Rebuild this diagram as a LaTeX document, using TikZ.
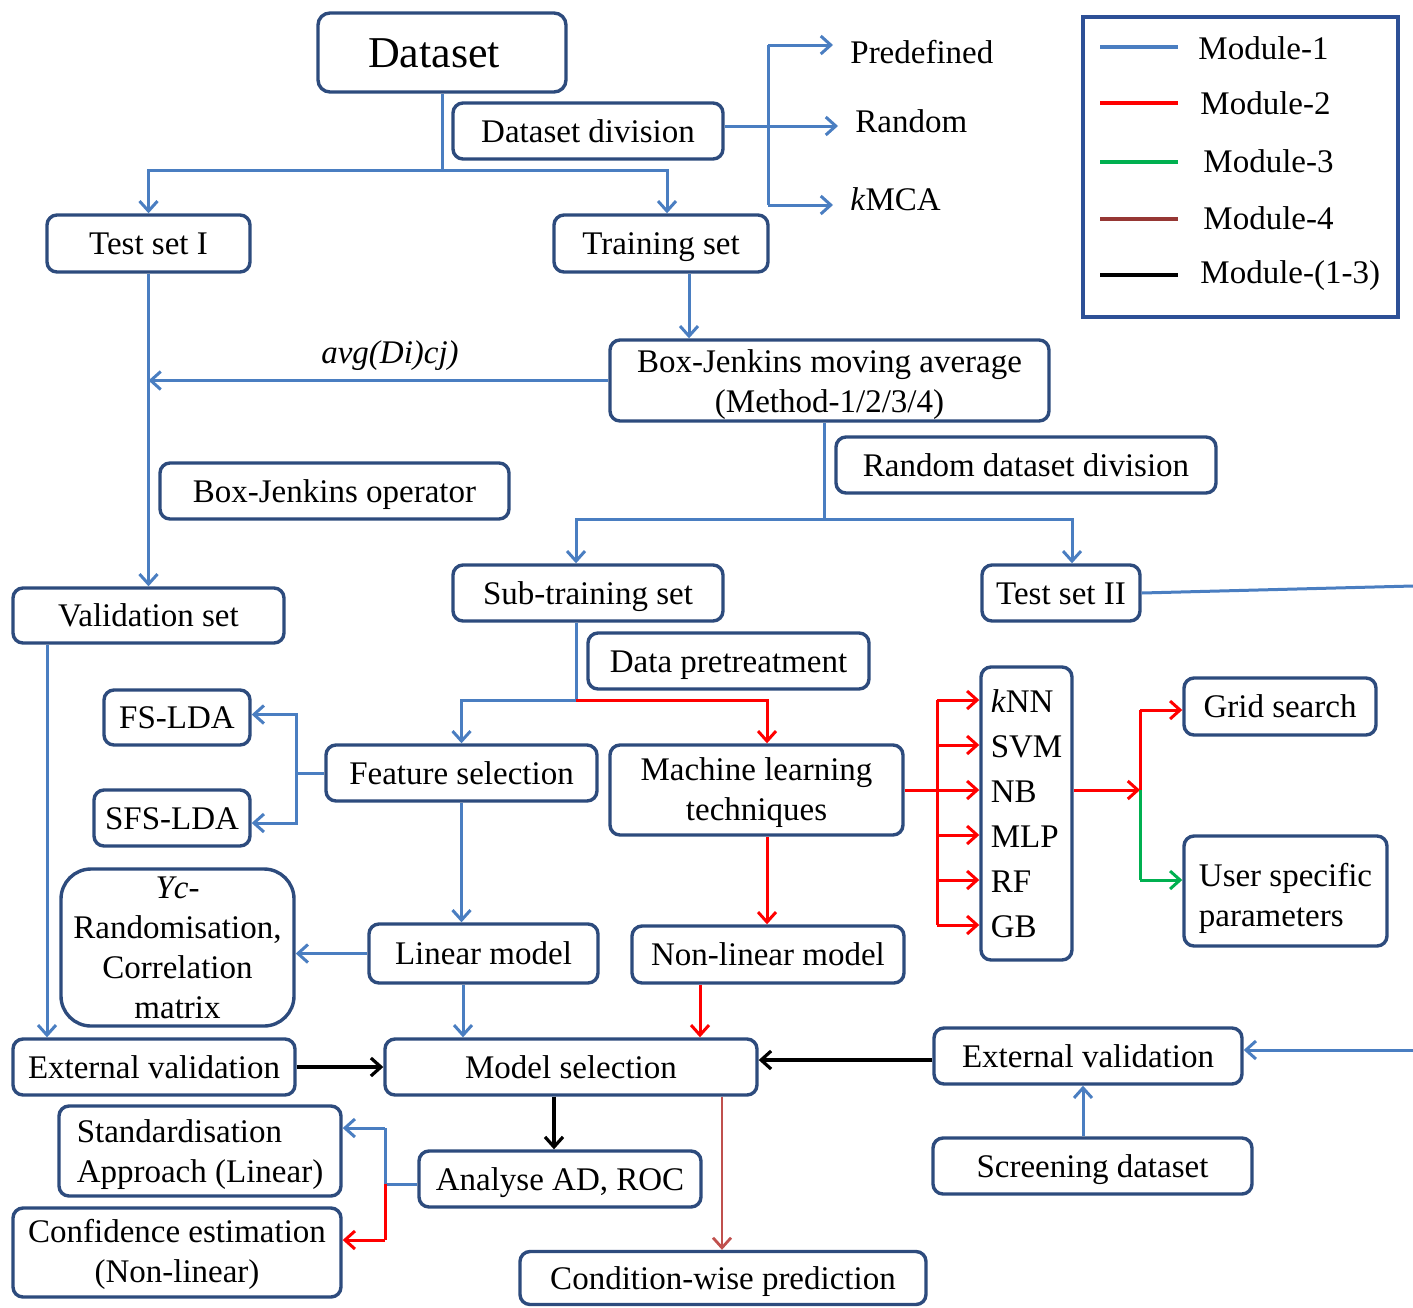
\documentclass[tikz,border=0pt]{standalone}
\usepackage{fontspec}
\setmainfont{Liberation Serif}
\usetikzlibrary{arrows.meta,calc}
\definecolor{boxc}{RGB}{45,75,125}
\definecolor{legc}{RGB}{45,80,150}
\definecolor{arrb}{RGB}{74,126,193}
\definecolor{arrr}{RGB}{255,0,0}
\definecolor{arrg}{RGB}{0,176,80}
\definecolor{arrbr}{RGB}{192,80,77}
\definecolor{legbr}{RGB}{150,55,52}
\newcommand\myfs{\fontsize{16.5pt}{20pt}\selectfont}
\tikzset{
  box/.style={draw=boxc, line width=1.7pt, rounded corners=5pt, inner sep=0pt, align=center, font=\myfs, fill=white},
  one/.style={text height=11pt, text depth=0pt},
  txt/.style={inner ysep=0pt, inner xsep=8.5pt, font=\myfs, anchor=west},
  tipv/.style={-{Straight Barb[length=5pt,width=9pt]}},
  bl/.style={draw=arrb, line width=1.5pt},
  bla/.style={bl, tipv},
  rd/.style={draw=arrr, line width=1.5pt},
  rda/.style={rd, tipv},
  gn/.style={draw=arrg, line width=1.5pt},
  gna/.style={gn, tipv},
  bka/.style={draw=black, line width=1.6pt, tipv},
  bra/.style={draw=arrbr, line width=1.4pt, tipv},
  legline/.style={line width=1.6pt},
  legtxt/.style={font=\myfs, anchor=west, inner sep=0pt}
}
\begin{document}
\begin{tikzpicture}[x=0.5pt,y=-0.5pt]
\useasboundingbox (0,0) rectangle (1413,1307);

% ---------- boxes ----------
\node[box, font=\fontsize{22pt}{26pt}\selectfont, text height=15pt, text depth=0pt, minimum width=124pt, minimum height=39.5pt, rounded corners=6pt] (ds) at (442,52.5) {Dataset\hspace*{8pt}};
\node[box, one, minimum width=135pt, minimum height=28pt] (dd) at (588,131) {Dataset division};
\node[box, one, minimum width=101.5pt, minimum height=28.5pt] (t1) at (148.5,243.5) {Test set I};
\node[box, one, minimum width=107pt, minimum height=28.5pt] (tr) at (661,243.5) {Training set};
\node[box, minimum width=219.5pt, minimum height=40.5pt] (bj) at (829.5,380.5) {\rule{0pt}{15.5pt}Box-Jenkins moving average\\(Method-1/2/3/4)};
\node[box, one, minimum width=174.5pt, minimum height=28pt] (bjo) at (334.5,491) {Box-Jenkins operator};
\node[box, one, minimum width=190pt, minimum height=28pt] (rdd) at (1026,465) {Random dataset division};
\node[box, one, minimum width=135.5pt, minimum height=27.5pt] (val) at (148.5,615.5) {Validation set};
\node[box, one, minimum width=135pt, minimum height=28pt] (sub) at (588,593) {Sub-training set};
\node[box, one, minimum width=79pt, minimum height=28pt] (t2) at (1061,593) {Test set II};
\node[box, one, minimum width=140.5pt, minimum height=28pt] (dp) at (728.5,661) {Data pretreatment};
\node[box, one, minimum width=73pt, minimum height=27.5pt] (fslda) at (177,717.5) {FS-LDA};
\node[box, one, minimum width=78pt, minimum height=28pt] (sfslda) at (172,818) {SFS-LDA};
\node[box, one, minimum width=135.5pt, minimum height=28pt] (fs) at (461.5,773) {Feature selection};
\node[box, minimum width=146.5pt, minimum height=45pt] (ml) at (756.5,790) {\rule{0pt}{13.5pt}Machine learning\\techniques};
\node[box, one, minimum width=114.5pt, minimum height=29.5pt] (lin) at (483.5,953.5) {Linear model};
\node[box, minimum width=116.5pt, minimum height=78.5pt, rounded corners=15pt] (yc) at (177.5,947.5) {\textit{Yc}-\\Randomisation,\\Correlation\\matrix};
\node[box, one, minimum width=136pt, minimum height=28.5pt] (nl) at (768,954.5) {Non-linear model};
\node[box, minimum width=45.5pt, minimum height=146.5pt, align=left, font=\fontsize{16.5pt}{22.5pt}\selectfont] (alg) at (1026.5,813.5) {\textit{k}NN\\SVM\\NB\\MLP\\RF\\GB};
\node[box, one, minimum width=96pt, minimum height=28.5pt] (grid) at (1280,706.5) {Grid search};
\node[box, minimum width=101.5pt, minimum height=55pt, align=left] (usp) at (1285.5,891) {\rule{0pt}{18.5pt}User specific\\parameters};
\node[box, one, minimum width=141pt, minimum height=28pt] (ev1) at (154,1067) {External validation};
\node[box, one, minimum width=186pt, minimum height=28pt] (ms) at (571,1067) {Model selection};
\node[box, one, minimum width=154pt, minimum height=28pt] (ev2) at (1088,1056) {External validation};
\node[box, one, minimum width=159.5pt, minimum height=28pt] (scr) at (1092.5,1166) {Screening dataset};
\node[box, one, minimum width=141pt, minimum height=28pt] (ad) at (560,1179) {Analyse AD, ROC};
\node[box, minimum width=141pt, minimum height=45pt, align=left] (std) at (200,1151) {\rule{0pt}{14.5pt}Standardisation\\Approach (Linear)};
\node[box, minimum width=164pt, minimum height=44.5pt] (conf) at (177,1252.5) {\rule{0pt}{13pt}Confidence estimation\\(Non-linear)};
\node[box, one, minimum width=203pt, minimum height=26.5pt] (cwp) at (723,1278) {Condition-wise prediction};

% ---------- plain texts ----------
\node[txt] (pre) at (833,52) {Predefined};
\node[txt] (rnd) at (838,121) {Random};
\node[txt] (kmca) at (833,199) {\textit{k}MCA};
\node[font=\myfs\itshape, inner sep=0pt] (avg) at (390,356) {avg(Di)cj)};

% ---------- connectors: top ----------
\coordinate (j1) at (ds.south |- 0,170);
\draw[bl] (ds.south) -- (j1);
\draw[bla] (j1) -| (t1.north);
\draw[bla] (j1) -| ([xshift=3pt]tr.north);

\coordinate (v1) at (768,45);
\coordinate (v2) at (768,205);
\draw[bl] (v1) -- (v2);
\draw[bla] (v1) -- (v1 -| pre.west);
\draw[bla] (v2) -- (v2 -| kmca.west);
\draw[bla] ([yshift=2.5pt]dd.east) -- ([yshift=2.5pt]dd.east -| rnd.west);

\draw[bla] ([xshift=14pt]tr.south) -- ([xshift=14pt]tr.south |- bj.north);
\draw[bla] (bj.west) -- (bj.west -| t1.south);
\draw[bla] (t1.south) -- (t1.south |- val.north);

\coordinate (j3) at (824,519);
\draw[bl] (bj.south -| j3) -- (j3);
\draw[bla] (j3) -| ([xshift=-6pt]sub.north);
\draw[bla] (j3) -| ([xshift=5.5pt]t2.north);

\coordinate (o1) at (1413,586);
\coordinate (o2) at (1413,1050);
\draw[bl] (t2.east) -- (o1);
\draw[bla] (o2) -- (o2 -| ev2.east);

% ---------- connectors: middle ----------
\coordinate (j4) at (576,700);
\draw[bl] ([xshift=-6pt]sub.south) -- (j4);
\draw[bla] (j4) -| (fs.north);
\draw[rda] (j4) -| ([xshift=5.25pt]ml.north);

\coordinate (j5) at (296,773);
\draw[bl] (fs.west) -- (j5);
\draw[bla] (j5) |- ([yshift=1.5pt]fslda.east);
\draw[bla] (j5) |- ([yshift=-2.5pt]sfslda.east);

\draw[bla] (fs.south) -- (fs.south |- lin.north);
\draw[bla] (lin.west) -- (lin.west -| yc.east);
\draw[bla] ([xshift=-10.25pt]lin.south) -- ([xshift=-10.25pt]lin.south |- ms.north);
\draw[rda] ([xshift=5.25pt]ml.south) -- ([xshift=5.25pt]ml.south |- nl.north);
\draw[rda] ([xshift=-34pt]nl.south) -- ([xshift=-34pt]nl.south |- ms.north);

\coordinate (j6) at (937,790);
\draw[rd] (ml.east |- j6) -- (j6);
\draw[rd] (937,700) -- (937,925);
\foreach \yy in {700,745,790,835,880,925}
  \draw[rda] (j6 |- 0,\yy) -- (alg.west |- 0,\yy);

\coordinate (j7) at (1140,790);
\draw[rda] (alg.east |- j7) -- (j7);
\draw[rd] (j7) -- (1140,710);
\draw[rda] (1140,710) -- (1140,710 -| grid.west);
\draw[gn] (j7) -- (1140,880);
\draw[gna] (1140,880) -- (1140,880 -| usp.west);

% ---------- connectors: bottom ----------
\draw[bla] ([xshift=-50.75pt]val.south) -- ([xshift=-50.75pt]val.south |- ev1.north);
\draw[bka] (ev1.east) -- (ms.west);
\draw[bka] ([yshift=-2pt]ev2.west) -- ([yshift=-2pt]ev2.west -| ms.east);
\draw[bla] ([xshift=-2.5pt]ev2.south |- scr.north) -- ([xshift=-2.5pt]ev2.south);
\draw[bka] ([xshift=-8.5pt]ms.south) -- ([xshift=-8.5pt]ms.south |- ad.north);
\draw[bra] ([xshift=75.5pt]ms.south) -- ([xshift=75.5pt]ms.south |- cwp.north);

\coordinate (j8) at (385,1184);
\draw[bl] (ad.west |- j8) -- (j8);
\draw[bl] (j8) -- (385,1128);
\draw[bla] (385,1128) -- (385,1128 -| std.east);
\draw[rd] (j8) -- (385,1240);
\draw[rda] (385,1240) -- (385,1240 -| conf.east);

% ---------- legend ----------
\node[draw=legc, line width=1.7pt, minimum width=157.5pt, minimum height=150pt, inner sep=0pt] (leg) at (1240.5,167) {};
\draw[legline, draw=arrb] (1100,47) -- (1178,47);
\draw[legline, draw=arrr] (1100,103) -- (1178,103);
\draw[legline, draw=arrg] (1100,162) -- (1178,162);
\draw[legline, draw=legbr] (1100,219) -- (1178,219);
\draw[legline, draw=black] (1100,275) -- (1178,275);
\node[legtxt] (m1) at (1198,48) {Module-1};
\node[legtxt] (m2) at (1200,103) {Module-2};
\node[legtxt] (m3) at (1203,161) {Module-3};
\node[legtxt] (m4) at (1203,218) {Module-4};
\node[legtxt] (m13) at (1200,276) {Module-(1-3)};
\end{tikzpicture}
\end{document}
